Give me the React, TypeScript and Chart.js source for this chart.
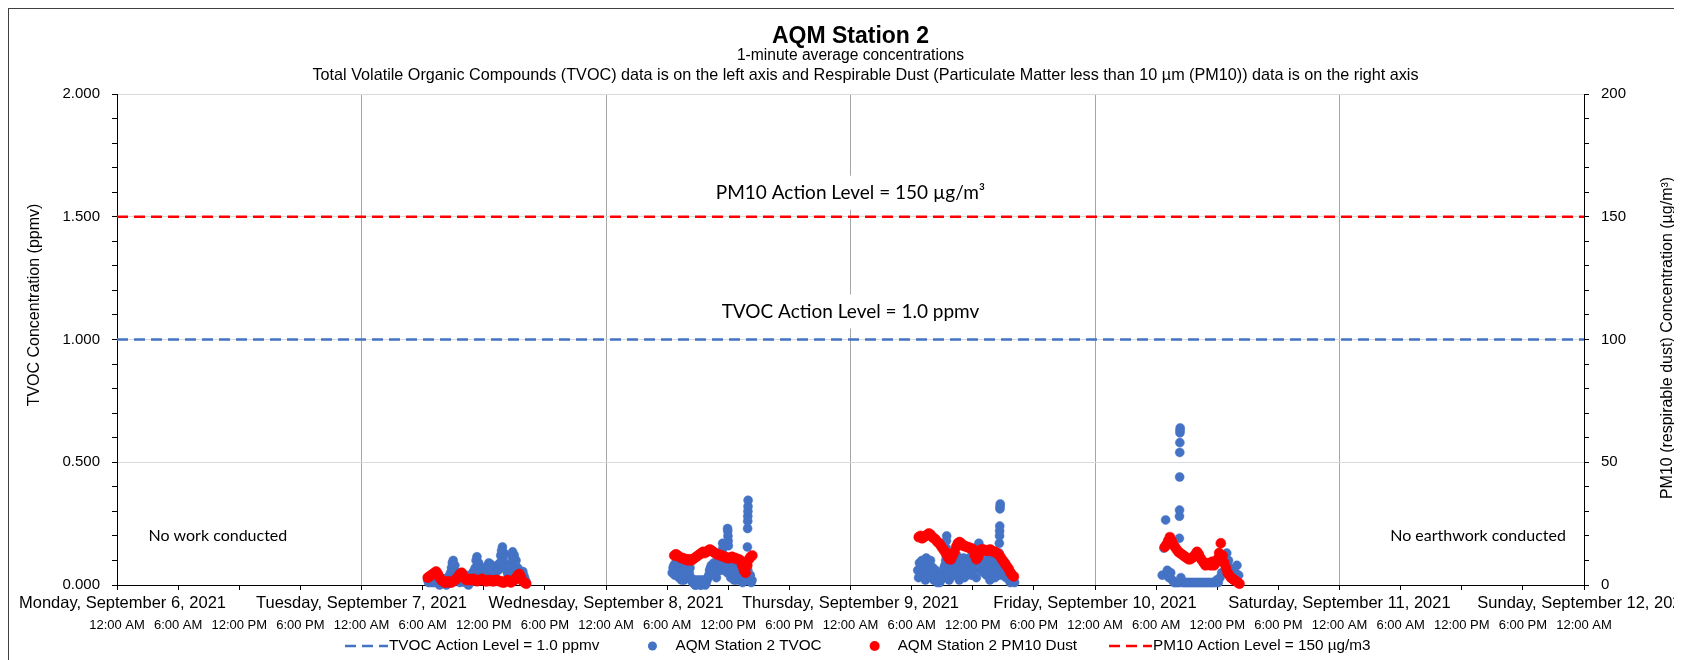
import React, { useEffect, useRef } from 'react';
import { Chart, registerables } from 'chart.js';

Chart.register(...registerables);

// ---------- Text ----------
const titleText = 'AQM Station 2';
const subtitle1 = '1-minute average concentrations';
const subtitle2 =
  'Total Volatile Organic Compounds (TVOC) data is on the left axis and Respirable Dust (Particulate Matter less than 10 µm (PM10)) data is on the right axis';
const leftAxisTitle = 'TVOC Concentration (ppmv)';
const rightAxisTitle = 'PM10 (respirable dust) Concentration (µg/m³)';
const pm10LabelText = 'PM10 Action Level = 150 µg/m³';
const tvocLabelText = 'TVOC Action Level = 1.0 ppmv';
const noWorkText = 'No work conducted';
const noEarthworkText = 'No earthwork conducted';

// ---------- Axes ----------
const dayLabels = [
  'Monday, September 6, 2021',
  'Tuesday, September 7, 2021',
  'Wednesday, September 8, 2021',
  'Thursday, September 9, 2021',
  'Friday, September 10, 2021',
  'Saturday, September 11, 2021',
  'Sunday, September 12, 2021',
];
const hourLabels = ['12:00 AM', '6:00 AM', '12:00 PM', '6:00 PM'];
const xMaxHours = 144; // hours after Monday 6 Sep 2021 00:00
const hourTickStep = 6;
const dayHours = 24;
const tvocMax = 2;
const pm10Max = 200;

// ---------- Action levels ----------
const tvocActionLevel = 1.0;
const pm10ActionLevel = 150;

// ---------- Measurements (10-minute samples of the 1-minute data) ----------
const sampleStepHours = 1 / 6;

const sep7StartHour = 30.5;
const sep7Tvoc = [
  0.02, 0.03, 0.01, 0.02, 0.03, 0.01, 0.02, 0.0, 0.01, 0.02, 0.01, 0.0, 0.02, 0.04, 0.07,
  0.1, 0.08, 0.05, 0.02, 0.01, 0.05, 0.03, 0.01, 0.02, 0.0, 0.01, 0.03, 0.04, 0.07, 0.115,
  0.09, 0.06, 0.03, 0.05, 0.04, 0.06, 0.09, 0.085, 0.05, 0.03, 0.06, 0.08, 0.07, 0.12, 0.155,
  0.13, 0.08, 0.05, 0.06, 0.09, 0.135, 0.12, 0.1, 0.07, 0.05, 0.04, 0.055, 0.03, 0.01,
];
// readings taken 5 minutes after each of the above
const sep7TvocOffset = [
  0.01, 0.02, 0.03, 0.01, 0.02, 0.02, 0.01, 0.03, 0.02, 0.01, 0.02, 0.03, 0.01, 0.05, 0.09,
  0.06, 0.04, 0.03, 0.02, 0.04, 0.03, 0.02, 0.04, 0.01, 0.02, 0.03, 0.05, 0.06, 0.1, 0.08,
  0.05, 0.04, 0.06, 0.07, 0.05, 0.08, 0.07, 0.06, 0.04, 0.05, 0.07, 0.06, 0.09, 0.14, 0.11,
  0.07, 0.06, 0.04, 0.08, 0.12, 0.1, 0.08, 0.06, 0.04, 0.03, 0.05, 0.04, 0.02,
];
const sep7Pm10StartHour = 30.5;
const sep7Pm10 = [
  3, 3.5, 4, 4.5, 5, 5.5, 4.5, 3, 2, 1.5, 1, 1, 1.5, 1, 1, 1.5, 2, 2.5, 3.5, 4.5, 5, 3.5, 2.5, 2,
  2.5, 2, 2, 2.5, 2, 1.5, 2, 2, 2.5, 2, 1.5, 1.5, 2, 2, 1.5, 1.5, 2, 2, 1.5, 1.5, 1, 1, 1.5, 2,
  1.5, 1, 1.5, 2, 3, 4, 4.5, 3, 1.5, 1, 0.5,
];

const sep8StartHour = 54.5;
const sep8Tvoc = [
  0.05, 0.08, 0.09, 0.06, 0.03, 0.07, 0.04, 0.02, 0.06, 0.08, 0.05, 0.03, 0.01, 0.02, 0.0,
  0.01, 0.02, 0.0, 0.01, 0.02, 0.01, 0.03, 0.06, 0.08, 0.05, 0.07, 0.03, 0.09, 0.06, 0.12,
  0.08, 0.1, 0.07, 0.09, 0.06, 0.08, 0.04, 0.06, 0.02, 0.05, 0.03, 0.06, 0.02, 0.05, 0.03,
  0.02, 0.04, 0.02,
];
const sep8TvocOffset = [
  0.07, 0.04, 0.06, 0.09, 0.05, 0.02, 0.06, 0.08, 0.03, 0.05, 0.07, 0.02, 0.01, 0.0, 0.02,
  0.01, 0.0, 0.02, 0.01, 0.0, 0.02, 0.04, 0.07, 0.05, 0.09, 0.04, 0.08, 0.06, 0.1, 0.13,
  0.06, 0.09, 0.05, 0.08, 0.03, 0.06, 0.02, 0.04, 0.07, 0.03, 0.05, 0.01, 0.04, 0.02, 0.06,
  0.03, 0.01,
];
const sep8Pm10StartHour = 54.7;
const sep8Pm10 = [
  12, 12.5, 12, 11.5, 11, 11, 10.5, 10.5, 10, 10.5, 10, 10.5, 11, 11.5, 12, 12.5, 13, 13.5, 13,
  13.5, 14, 14.5, 14, 13.5, 13, 12.5, 12.5, 12, 12, 11.5, 11.5, 11, 11, 11, 11.5, 11, 11, 10.5,
  10.5, 10, 8, 6, 5, 8, 10.5, 11.5, 12,
];

const sep9StartHour = 78.6;
const sep9Tvoc = [
  0.06, 0.09, 0.04, 0.08, 0.05, 0.11, 0.09, 0.06, 0.03, 0.07, 0.04, 0.02, 0.03, 0.01, 0.04,
  0.05, 0.08, 0.06, 0.04, 0.03, 0.06, 0.1, 0.08, 0.12, 0.05, 0.09, 0.04, 0.11, 0.07, 0.1,
  0.05, 0.08, 0.12, 0.06, 0.1, 0.14, 0.17, 0.13, 0.08, 0.05, 0.09, 0.06, 0.11, 0.07, 0.04,
  0.1, 0.08, 0.12, 0.09, 0.06, 0.08, 0.06, 0.03, 0.07, 0.02, 0.05, 0.03, 0.01,
];
const sep9TvocOffset = [
  0.03, 0.07, 0.1, 0.05, 0.02, 0.08, 0.04, 0.1, 0.05, 0.02, 0.06, 0.01, 0.04, 0.02, 0.03,
  0.07, 0.1, 0.05, 0.02, 0.05, 0.09, 0.04, 0.11, 0.07, 0.02, 0.06, 0.08, 0.03, 0.05, 0.09,
  0.11, 0.04, 0.07, 0.1, 0.03, 0.12, 0.09, 0.06, 0.1, 0.08, 0.04, 0.07, 0.02, 0.09, 0.06,
  0.03, 0.11, 0.07, 0.04, 0.08, 0.05, 0.09, 0.04, 0.06, 0.01, 0.04, 0.02,
];
const sep9Pm10StartHour = 78.7;
const sep9Pm10 = [
  19.5, 20, 19, 19.5, 20, 20.5, 21, 20.5, 19.5, 19, 18.5, 17.5, 17, 16, 15, 14, 13, 11.5, 10.5,
  10.5, 12, 13.5, 15.5, 17, 17.5, 17, 16, 16, 15.5, 15.5, 15, 15, 14.5, 12, 10.5, 11.5, 13.5,
  14.5, 14.5, 14, 14, 14, 14.5, 14, 13.5, 13.5, 13, 12.5, 11.5, 10.5, 9.5, 8.5, 7.5, 6.5, 5, 4,
  3.5,
];

const sep10StartHour = 102.6;
const sep10Tvoc = [
  0.04, 0.15, 0.265, 0.06, 0.03, 0.05, 0.02, 0.01, 0.01, 0.01, 0.01, 0.03, 0.01, 0.01, 0.01,
  0.01, 0.01, 0.01, 0.01, 0.01, 0.01, 0.01, 0.01, 0.01, 0.01, 0.01, 0.01, 0.01, 0.01, 0.01,
  0.01, 0.01, 0.02, 0.01, 0.03, 0.05, 0.09, 0.12, 0.13, 0.1, 0.07, 0.04, 0.02, 0.05, 0.08,
  0.04,
];
const sep10Pm10StartHour = 102.85;
const sep10Pm10 = [
  15.5, 16.5, 18, 19.5, 18, 16.5, 15.5, 14.5, 13.5, 13, 12.5, 12, 11.5, 11, 10.5, 10.5, 11,
  11.5, 12.5, 13.5, 12.5, 11, 10, 9, 8, 8.5, 9, 8, 9.5, 8, 9, 10.5, 13, 17, 12, 9, 7, 5, 4, 3,
  2.5, 2, 1.5, 1, 0.5,
];

// Short TVOC peaks read minute by minute (hours after Mon 6 Sep 00:00)
const tvocPeakHours = [
  59.45, 59.47, 59.93, 59.95, 59.97, 59.99, 60.01,
  61.88, 61.9, 61.91, 61.92, 61.93, 61.94, 61.95,
  81.38, 81.4, 81.42, 81.44,
  86.6, 86.61, 86.63, 86.64, 86.65, 86.67, 86.68, 86.7,
  104.28, 104.29, 104.3, 104.31, 104.32, 104.33, 104.34, 104.35, 104.36,
];
const tvocPeakValues = [
  0.17, 0.15, 0.23, 0.22, 0.2, 0.18, 0.16,
  0.155, 0.23, 0.26, 0.28, 0.3, 0.32, 0.345,
  0.12, 0.15, 0.18, 0.2,
  0.13, 0.17, 0.2, 0.22, 0.24, 0.31, 0.32, 0.33,
  0.19, 0.28, 0.305, 0.44, 0.54, 0.58, 0.62, 0.63, 0.64,
];

// ---------- Colours ----------
const tvocColor = '#4472C4';
const pm10Color = '#FF0000';
const hGridColor = '#D9D9D9';
const vGridColor = '#A6A6A6';
const FONT = '"Liberation Sans", Arial, sans-serif';
const NOTE_FONT = 'Lato, "Open Sans", sans-serif';

type Pt = { x: number; y: number };
function sampled(start: number, values: number[]): Pt[] {
  return values.map((v, i) => ({ x: start + i * sampleStepHours, y: v }));
}
const halfStep = sampleStepHours / 2;

const tvocPoints: Pt[] = [
  ...sampled(sep7StartHour, sep7Tvoc),
  ...sampled(sep7StartHour + halfStep, sep7TvocOffset),
  ...sampled(sep8StartHour, sep8Tvoc),
  ...sampled(sep8StartHour + halfStep, sep8TvocOffset),
  ...sampled(sep9StartHour, sep9Tvoc),
  ...sampled(sep9StartHour + halfStep, sep9TvocOffset),
  ...sampled(sep10StartHour, sep10Tvoc),
  ...tvocPeakHours.map((h, i) => ({ x: h, y: tvocPeakValues[i] })),
];
const pm10Points: Pt[] = [
  ...sampled(sep7Pm10StartHour, sep7Pm10),
  ...sampled(sep8Pm10StartHour, sep8Pm10),
  ...sampled(sep9Pm10StartHour, sep9Pm10),
  ...sampled(sep10Pm10StartHour, sep10Pm10),
];

const legendItems = [
  { label: 'TVOC Action Level = 1.0 ppmv', kind: 'dash', color: tvocColor, r: 0 },
  { label: 'AQM Station 2 TVOC', kind: 'dot', color: tvocColor, r: 4.5 },
  { label: 'AQM Station 2 PM10 Dust', kind: 'dot', color: pm10Color, r: 5 },
  { label: 'PM10 Action Level = 150 µg/m3', kind: 'dash', color: pm10Color, r: 0 },
];

const decorPlugin = {
  id: 'decor',
  beforeDatasetsDraw(chart: any) {
    const { ctx, scales } = chart;
    const xs = scales.x;
    const ys = scales.y;
    const y2s = scales.y2;
    ctx.save();
    ctx.textAlign = 'center';
    ctx.textBaseline = 'middle';
    ctx.font = `19px ${NOTE_FONT}`;
    const boxes = [
      { text: pm10LabelText, x: xs.getPixelForValue(72), y: y2s.getPixelForValue(pm10ActionLevel) - 24 },
      { text: tvocLabelText, x: xs.getPixelForValue(72), y: ys.getPixelForValue(tvocActionLevel) - 28 },
    ];
    for (const b of boxes) {
      const w = ctx.measureText(b.text).width + 14;
      ctx.fillStyle = '#fff';
      ctx.fillRect(b.x - w / 2, b.y - 17, w, 34);
      ctx.fillStyle = '#000';
      ctx.fillText(b.text, b.x, b.y);
    }
    ctx.font = `16px ${NOTE_FONT}`;
    ctx.fillText(noWorkText, xs.getPixelForValue(9.9), ys.getPixelForValue(0.2));
    ctx.fillText(noEarthworkText, xs.getPixelForValue(133.6), ys.getPixelForValue(0.2));
    ctx.restore();
  },
  afterDraw(chart: any) {
    const { ctx, chartArea, scales } = chart;
    const cx = (chartArea.left + chartArea.right) / 2;
    ctx.save();
    ctx.fillStyle = '#000';
    ctx.textAlign = 'center';
    ctx.textBaseline = 'middle';
    ctx.font = `bold 23px ${FONT}`;
    ctx.fillText(titleText, cx, chartArea.top - 57);
    ctx.font = `15.6px ${FONT}`;
    ctx.fillText(subtitle1, cx, chartArea.top - 38);
    ctx.font = `16.2px ${FONT}`;
    ctx.fillText(subtitle2, cx + 15, chartArea.top - 18);

    // day labels (first one kept inside the chart frame, as the original does)
    ctx.font = `16.5px ${FONT}`;
    dayLabels.forEach((lab, i) => {
      const w = ctx.measureText(lab).width;
      let px = scales.x.getPixelForValue(i * dayHours);
      px = Math.max(px, 10 + w / 2);
      ctx.fillText(lab, px, chartArea.bottom + 18);
    });

    ctx.font = `16px ${FONT}`;
    ctx.save();
    ctx.translate(chartArea.left - 82, chartArea.top + 211);
    ctx.rotate(-Math.PI / 2);
    ctx.fillText(leftAxisTitle, 0, 0);
    ctx.restore();
    ctx.save();
    ctx.translate(chartArea.right + 84, chartArea.top + 244);
    ctx.rotate(-Math.PI / 2);
    ctx.fillText(rightAxisTitle, 0, 0);
    ctx.restore();

    // legend
    ctx.font = `15.3px ${FONT}`;
    ctx.textAlign = 'left';
    const ly = chartArea.bottom + 61;
    let x = chartArea.left + 228;
    for (const it of legendItems) {
      if (it.kind === 'dash') {
        ctx.save();
        ctx.strokeStyle = it.color;
        ctx.lineWidth = 2.5;
        ctx.setLineDash([11, 6]);
        ctx.beginPath();
        ctx.moveTo(x, ly);
        ctx.lineTo(x + 43, ly);
        ctx.stroke();
        ctx.restore();
      } else {
        ctx.fillStyle = it.color;
        ctx.beginPath();
        ctx.arc(x + 21, ly, it.r, 0, Math.PI * 2);
        ctx.fill();
      }
      ctx.fillStyle = '#000';
      ctx.fillText(it.label, x + 44, ly);
      x += 44 + ctx.measureText(it.label).width + 32;
    }
    ctx.restore();
  },
};

function stepTicks(max: number, step: number) {
  const out: { value: number }[] = [];
  const n = Math.round(max / step);
  for (let i = 0; i <= n; i++) out.push({ value: +(i * step).toFixed(6) });
  return out;
}

export default function App() {
  const ref = useRef<HTMLCanvasElement | null>(null);
  useEffect(() => {
    document.body.style.overflow = 'hidden';
    Chart.defaults.font.family = FONT;
    Chart.defaults.color = '#000';
    const canvas = ref.current!;
    const chart = new Chart(canvas, {
      type: 'scatter',
      data: {
        datasets: [
          {
            label: 'TVOC Action Level = 1.0 ppmv',
            data: [
              { x: 0, y: tvocActionLevel },
              { x: xMaxHours, y: tvocActionLevel },
            ],
            showLine: true,
            borderColor: tvocColor,
            borderWidth: 2.5,
            borderDash: [11, 6],
            pointRadius: 0,
            yAxisID: 'y',
            order: 0,
          } as any,
          {
            label: 'AQM Station 2 TVOC',
            data: tvocPoints,
            backgroundColor: tvocColor,
            borderColor: tvocColor,
            borderWidth: 0.5,
            pointRadius: 4.5,
            yAxisID: 'y',
            clip: false,
            order: 2,
          } as any,
          {
            label: 'AQM Station 2 PM10 Dust',
            data: pm10Points,
            backgroundColor: pm10Color,
            borderColor: pm10Color,
            borderWidth: 0.5,
            pointRadius: 5,
            yAxisID: 'y2',
            clip: false,
            order: 1,
          } as any,
          {
            label: 'PM10 Action Level = 150 µg/m3',
            data: [
              { x: 0, y: pm10ActionLevel },
              { x: xMaxHours, y: pm10ActionLevel },
            ],
            showLine: true,
            borderColor: pm10Color,
            borderWidth: 2.5,
            borderDash: [11, 6],
            pointRadius: 0,
            yAxisID: 'y2',
            order: 0,
          } as any,
        ],
      },
      options: {
        responsive: false,
        animation: false,
        devicePixelRatio: 1,
        events: [],
        layout: { padding: { top: 85, bottom: 23, left: 0, right: 0 } },
        plugins: { legend: { display: false }, tooltip: { enabled: false }, title: { display: false } },
        scales: {
          x: {
            type: 'linear',
            position: 'bottom',
            weight: 0,
            min: 0,
            max: xMaxHours,
            afterBuildTicks: (s: any) => {
              s.ticks = stepTicks(xMaxHours, hourTickStep);
            },
            afterFit: (s: any) => {
              s.height = 27;
              s.paddingLeft = 0;
              s.paddingRight = 0;
            },
            ticks: {
              autoSkip: false,
              maxRotation: 0,
              minRotation: 0,
              callback: () => '',
            },
            grid: {
              color: (c: any) => {
                const v = c.tick ? c.tick.value : -1;
                return v % dayHours === 0 && v > 0 && v < xMaxHours ? vGridColor : 'rgba(0,0,0,0)';
              },
              tickColor: '#000',
              tickLength: 5,
              lineWidth: 1,
            },
            border: { color: '#000', width: 1 },
          },
          x2: {
            type: 'linear',
            position: 'bottom',
            weight: 1,
            min: 0,
            max: xMaxHours,
            afterBuildTicks: (s: any) => {
              s.ticks = stepTicks(xMaxHours, hourTickStep);
            },
            afterFit: (s: any) => {
              s.height = 25;
              s.paddingLeft = 0;
              s.paddingRight = 0;
            },
            ticks: {
              autoSkip: false,
              maxRotation: 0,
              minRotation: 0,
              padding: 6,
              font: { size: 13, family: FONT },
              color: '#000',
              callback: (v: any) => hourLabels[(Number(v) / hourTickStep) % 4],
            },
            grid: { display: false, drawTicks: false, tickLength: 0 },
            border: { display: false },
          },
          y: {
            type: 'linear',
            position: 'left',
            min: 0,
            max: tvocMax,
            afterBuildTicks: (s: any) => {
              s.ticks = stepTicks(tvocMax, 0.1);
            },
            afterFit: (s: any) => {
              s.width = 108;
            },
            ticks: {
              autoSkip: false,
              padding: 12,
              font: { size: 15, family: FONT },
              color: '#000',
              callback: (v: any) => (Math.round(Number(v) * 10) % 5 === 0 ? Number(v).toFixed(3) : ''),
            },
            grid: {
              color: (c: any) => {
                const v = c.tick ? c.tick.value : 0;
                return Math.round(v * 10) % 5 === 0 && v > 0 ? hGridColor : 'rgba(0,0,0,0)';
              },
              tickColor: '#000',
              tickLength: 5,
            },
            border: { color: '#000', width: 1 },
          },
          y2: {
            type: 'linear',
            position: 'right',
            min: 0,
            max: pm10Max,
            afterBuildTicks: (s: any) => {
              s.ticks = stepTicks(pm10Max, 10);
            },
            afterFit: (s: any) => {
              s.width = 98;
            },
            ticks: {
              autoSkip: false,
              padding: 12,
              font: { size: 15, family: FONT },
              color: '#000',
              callback: (v: any) => (Number(v) % 50 === 0 ? String(v) : ''),
            },
            grid: { drawOnChartArea: false, tickColor: '#000', tickLength: 5 },
            border: { color: '#000', width: 1 },
          },
        },
      } as any,
      plugins: [decorPlugin],
    });
    return () => chart.destroy();
  }, []);

  return (
    <div
      style={{
        width: 1673,
        height: 651,
        borderTop: '1px solid #404040',
        borderLeft: '1px solid #404040',
        background: '#fff',
      }}
    >
      <canvas ref={ref} width={1673} height={651} style={{ display: 'block', width: 1673, height: 651 }} />
    </div>
  );
}
